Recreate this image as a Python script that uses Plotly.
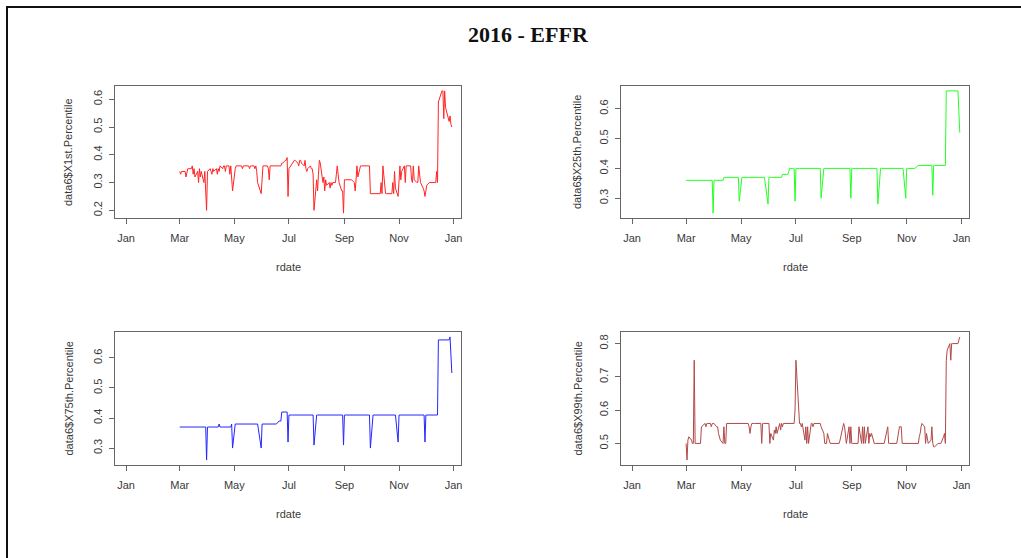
import pandas as pd
import plotly.graph_objects as go

# ---------------- data ----------------
fed_holidays = ["2016-05-30", "2016-07-04", "2016-09-05", "2016-10-10",
                "2016-11-11", "2016-11-24", "2016-12-26"]
rdate = pd.bdate_range("2016-03-01", "2016-12-30", freq="C", holidays=fed_holidays)

tick_dates = ["2016-01-01", "2016-03-01", "2016-05-01", "2016-07-01",
              "2016-09-01", "2016-11-01", "2017-01-01"]
tick_labels = ["Jan", "Mar", "May", "Jul", "Sep", "Nov", "Jan"]

x1st = [
    # Mar
    0.34,0.33,0.34,0.34,0.34,0.32,0.34,0.35,0.35,0.35,0.36,0.33,0.35,0.32,0.34,0.30,0.35,0.32,0.34,0.30,0.34,0.27,0.20,
    # Apr
    0.34,0.35,0.34,0.33,0.35,0.34,0.35,0.33,0.35,0.34,0.36,0.35,0.36,0.36,0.34,0.36,0.36,0.33,0.36,0.32,0.27,
    # May
    0.35,0.36,0.36,0.36,0.36,0.36,0.35,0.36,0.36,0.36,0.36,0.36,0.35,0.36,0.36,0.36,0.35,0.36,0.34,0.30,0.26,
    # Jun
    0.33,0.36,0.36,0.36,0.36,0.35,0.31,0.36,0.36,0.36,0.36,0.36,0.36,0.36,0.36,0.36,0.37,0.37,0.38,0.38,0.39,0.25,
    # Jul
    0.35,0.37,0.38,0.38,0.38,0.37,0.36,0.38,0.38,0.37,0.36,0.38,0.35,0.34,0.35,0.36,0.35,0.35,0.33,0.20,
    # Aug
    0.31,0.27,0.33,0.38,0.37,0.30,0.32,0.27,0.31,0.29,0.30,0.28,0.30,0.29,0.30,0.30,0.33,0.36,0.33,0.30,0.27,0.27,0.19,
    # Sep
    0.31,0.31,0.31,0.31,0.31,0.31,0.30,0.27,0.31,0.36,0.32,0.36,0.36,0.36,0.36,0.36,0.36,0.36,0.36,0.36,0.26,
    # Oct
    0.26,0.26,0.26,0.26,0.26,0.26,0.30,0.26,0.36,0.26,0.26,0.26,0.26,0.26,0.26,0.30,0.26,0.34,0.28,0.25,
    # Nov
    0.30,0.36,0.31,0.34,0.36,0.30,0.36,0.36,0.36,0.31,0.30,0.36,0.31,0.30,0.30,0.36,0.30,0.28,0.27,0.25,
    # Dec
    0.27,0.29,0.30,0.30,0.30,0.30,0.30,0.30,0.34,0.30,0.59,0.60,0.63,0.63,0.53,0.63,0.57,0.52,0.54,0.51,0.50,
]

x25th = [
    # Mar
    0.36,0.36,0.36,0.36,0.36,0.36,0.36,0.36,0.36,0.36,0.36,0.36,0.36,0.36,0.36,0.36,0.36,0.36,0.36,0.36,0.36,0.36,0.25,
    # Apr
    0.36,0.36,0.36,0.36,0.36,0.36,0.36,0.37,0.37,0.37,0.37,0.37,0.37,0.37,0.37,0.37,0.37,0.37,0.37,0.37,0.29,
    # May
    0.37,0.37,0.37,0.37,0.37,0.37,0.37,0.37,0.37,0.37,0.37,0.37,0.37,0.37,0.37,0.37,0.37,0.37,0.37,0.37,0.28,
    # Jun
    0.37,0.37,0.37,0.37,0.37,0.37,0.37,0.37,0.37,0.37,0.37,0.38,0.38,0.38,0.38,0.38,0.39,0.40,0.40,0.40,0.40,0.29,
    # Jul
    0.40,0.40,0.40,0.40,0.40,0.40,0.40,0.40,0.40,0.40,0.40,0.40,0.40,0.40,0.40,0.40,0.40,0.40,0.40,0.30,
    # Aug
    0.40,0.40,0.40,0.40,0.40,0.40,0.40,0.40,0.40,0.40,0.40,0.40,0.40,0.40,0.40,0.40,0.40,0.40,0.40,0.40,0.40,0.40,0.30,
    # Sep
    0.40,0.40,0.40,0.40,0.40,0.40,0.40,0.40,0.40,0.40,0.40,0.40,0.40,0.40,0.40,0.40,0.40,0.40,0.40,0.40,0.28,
    # Oct
    0.40,0.40,0.40,0.40,0.40,0.40,0.40,0.40,0.40,0.40,0.40,0.40,0.40,0.40,0.40,0.40,0.40,0.40,0.40,0.30,
    # Nov
    0.40,0.40,0.40,0.40,0.40,0.40,0.40,0.40,0.41,0.41,0.41,0.41,0.41,0.41,0.41,0.41,0.41,0.41,0.41,0.31,
    # Dec
    0.41,0.41,0.41,0.41,0.41,0.41,0.41,0.41,0.41,0.41,0.66,0.66,0.66,0.66,0.66,0.66,0.66,0.66,0.66,0.59,0.52,
]

x75th = [
    # Mar
    0.37,0.37,0.37,0.37,0.37,0.37,0.37,0.37,0.37,0.37,0.37,0.37,0.37,0.37,0.37,0.37,0.37,0.37,0.37,0.37,0.37,0.37,0.26,
    # Apr
    0.37,0.37,0.37,0.37,0.37,0.37,0.37,0.37,0.37,0.38,0.37,0.37,0.37,0.37,0.37,0.37,0.37,0.37,0.37,0.38,0.30,
    # May
    0.38,0.38,0.38,0.38,0.38,0.38,0.38,0.38,0.38,0.38,0.38,0.38,0.38,0.38,0.38,0.38,0.38,0.38,0.38,0.38,0.30,
    # Jun
    0.38,0.38,0.38,0.38,0.38,0.38,0.38,0.38,0.38,0.38,0.38,0.38,0.38,0.39,0.39,0.39,0.42,0.42,0.42,0.42,0.42,0.32,
    # Jul
    0.41,0.41,0.41,0.41,0.41,0.41,0.41,0.41,0.41,0.41,0.41,0.41,0.41,0.41,0.41,0.41,0.41,0.41,0.41,0.31,
    # Aug
    0.41,0.41,0.41,0.41,0.41,0.41,0.41,0.41,0.41,0.41,0.41,0.41,0.41,0.41,0.41,0.41,0.41,0.41,0.41,0.41,0.41,0.41,0.31,
    # Sep
    0.41,0.41,0.41,0.41,0.41,0.41,0.41,0.41,0.41,0.41,0.41,0.41,0.41,0.41,0.41,0.41,0.41,0.41,0.41,0.41,0.30,
    # Oct
    0.41,0.41,0.41,0.41,0.41,0.41,0.41,0.41,0.41,0.41,0.41,0.41,0.41,0.41,0.41,0.41,0.41,0.41,0.41,0.32,
    # Nov
    0.41,0.41,0.41,0.41,0.41,0.41,0.41,0.41,0.41,0.41,0.41,0.41,0.41,0.41,0.41,0.41,0.41,0.41,0.41,0.32,
    # Dec
    0.41,0.41,0.41,0.41,0.41,0.41,0.41,0.41,0.41,0.41,0.66,0.66,0.66,0.66,0.66,0.66,0.66,0.66,0.67,0.60,0.55,
]

x99th = [
    # Mar
    0.50,0.45,0.51,0.52,0.51,0.50,0.50,0.75,0.50,0.50,0.50,0.50,0.50,0.55,0.56,0.56,0.55,0.56,0.56,0.56,0.55,0.56,0.56,
    # Apr
    0.56,0.55,0.55,0.53,0.52,0.51,0.50,0.55,0.50,0.50,0.56,0.56,0.56,0.56,0.56,0.56,0.56,0.56,0.56,0.56,0.56,
    # May
    0.56,0.56,0.56,0.56,0.56,0.56,0.55,0.53,0.55,0.56,0.56,0.56,0.56,0.56,0.56,0.56,0.50,0.56,0.56,0.56,0.56,
    # Jun
    0.56,0.50,0.53,0.51,0.54,0.53,0.55,0.53,0.56,0.54,0.56,0.55,0.56,0.56,0.56,0.56,0.56,0.56,0.56,0.56,0.56,0.60,
    # Jul
    0.75,0.56,0.56,0.55,0.56,0.51,0.55,0.50,0.55,0.50,0.56,0.56,0.55,0.56,0.56,0.56,0.56,0.56,0.56,0.55,
    # Aug
    0.53,0.50,0.50,0.50,0.53,0.50,0.50,0.50,0.50,0.50,0.50,0.50,0.50,0.50,0.51,0.55,0.56,0.55,0.53,0.50,0.55,0.50,0.55,
    # Sep
    0.50,0.50,0.50,0.50,0.50,0.55,0.50,0.55,0.50,0.55,0.50,0.55,0.50,0.53,0.52,0.53,0.50,0.50,0.50,0.50,0.50,
    # Oct
    0.50,0.50,0.50,0.50,0.50,0.55,0.50,0.50,0.50,0.50,0.50,0.50,0.50,0.50,0.55,0.55,0.55,0.50,0.50,0.50,
    # Nov
    0.50,0.50,0.50,0.50,0.50,0.50,0.50,0.50,0.50,0.52,0.53,0.55,0.56,0.55,0.50,0.53,0.50,0.51,0.55,0.50,
    # Dec
    0.49,0.49,0.50,0.50,0.50,0.50,0.50,0.52,0.53,0.50,0.75,0.78,0.80,0.75,0.80,0.80,0.80,0.80,0.80,0.81,0.82,
]

series_names = ["data6$X1st.Percentile", "data6$X25th.Percentile",
                "data6$X75th.Percentile", "data6$X99th.Percentile"]
series_values = [x1st, x25th, x75th, x99th]
series_colors = ["#FF0000", "#00FF00", "#0000FF", "#A52A2A"]

for v in series_values:
    assert len(v) == len(rdate), (len(v), len(rdate))

# ---------------- layout helpers ----------------
W, H = 1021, 558
def fx(px):
    return px / W
def fy(py):
    return 1 - py / H

col_px = [(115, 461), (621, 969)]
row_px = [(86, 218), (332, 465)]
ylab_x = [68, 577]
xlab_y = [267, 514]

axis_col = "#666666"
text_col = "#3a3a3a"
font_family = "Liberation Sans, Arial, sans-serif"
xrange = ["2015-12-19 16:00", "2017-01-09 06:00"]

fig = go.Figure()
annotations = []
layout_axes = {}

for i, (name, vals, color) in enumerate(zip(series_names, series_values, series_colors)):
    r, c = divmod(i, 2)
    n = "" if i == 0 else str(i + 1)
    fig.add_trace(go.Scatter(
        x=rdate, y=vals, mode="lines",
        line=dict(color=color, width=1), opacity=0.85,
        xaxis="x" + n, yaxis="y" + n, showlegend=False,
        hoverinfo="x+y",
    ))
    lo, hi = min(vals), max(vals)
    pad = 0.04 * (hi - lo)
    x0, x1 = col_px[c]
    y0, y1 = row_px[r]
    layout_axes["xaxis" + n] = dict(
        domain=[fx(x0), fx(x1)], anchor="y" + n, type="date",
        range=xrange, tickmode="array", tickvals=tick_dates, ticktext=tick_labels,
        showline=True, mirror=True, linecolor=axis_col, linewidth=1,
        ticks="outside", ticklen=5, tickcolor=axis_col, tickwidth=1,
        showgrid=False, zeroline=False, ticklabelstandoff=5,
        tickfont=dict(family=font_family, size=11, color=text_col),
        fixedrange=True,
    )
    layout_axes["yaxis" + n] = dict(
        domain=[fy(y1), fy(y0)], anchor="x" + n,
        range=[lo - pad, hi + pad], tick0=0, dtick=0.1, tickformat=".1f",
        tickangle=-90,
        showline=True, mirror=True, linecolor=axis_col, linewidth=1,
        ticks="outside", ticklen=5, tickcolor=axis_col, tickwidth=1,
        showgrid=False, zeroline=False, ticklabelstandoff=3,
        tickfont=dict(family=font_family, size=11, color=text_col),
        fixedrange=True,
    )
    annotations.append(dict(
        x=fx(ylab_x[c]), y=fy((y0 + y1) / 2), xref="paper", yref="paper",
        text=name, textangle=-90, showarrow=False,
        xanchor="center", yanchor="middle",
        font=dict(family=font_family, size=11, color=text_col),
    ))
    annotations.append(dict(
        x=fx((x0 + x1) / 2), y=fy(xlab_y[r]), xref="paper", yref="paper",
        text="rdate", showarrow=False, xanchor="center", yanchor="middle",
        font=dict(family=font_family, size=11, color=text_col),
    ))

annotations.append(dict(
    x=fx(528), y=fy(35), xref="paper", yref="paper",
    text="<b>2016 - EFFR</b>", showarrow=False, xanchor="center", yanchor="middle",
    font=dict(family="Liberation Serif, Times New Roman, serif", size=22, color="#111111"),
))

shapes = [
    dict(type="line", xref="paper", yref="paper", x0=fx(6), x1=1.0, y0=fy(7), y1=fy(7),
         line=dict(color="#111111", width=2)),
    dict(type="line", xref="paper", yref="paper", x0=fx(7), x1=fx(7), y0=fy(6), y1=0.0,
         line=dict(color="#111111", width=2)),
]

fig.update_layout(
    width=W, height=H, margin=dict(l=0, r=0, t=0, b=0),
    paper_bgcolor="white", plot_bgcolor="white",
    annotations=annotations, shapes=shapes,
    **layout_axes,
)

fig.write_html(
    "out.html",
    config={"displayModeBar": False},
    post_script="document.body.style.margin='0';document.body.style.overflow='hidden';",
)
